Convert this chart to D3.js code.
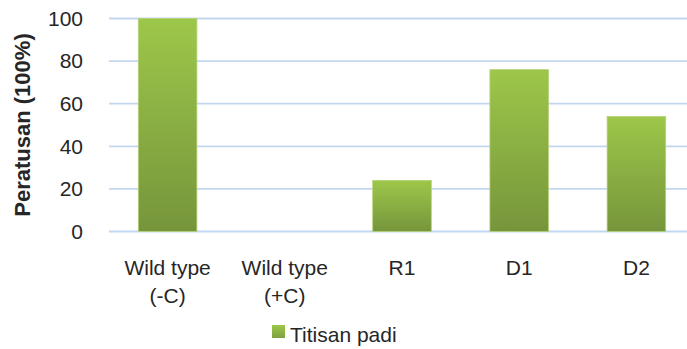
<!DOCTYPE html>
<html>
<head>
<meta charset="utf-8">
<script src="https://cdn.jsdelivr.net/npm/d3@7"></script>
<style>
  html, body { margin: 0; padding: 0; background: #fff; }
  svg { display: block; }
  text { font-family: "Liberation Sans", Arial, sans-serif; fill: #262626; }
</style>
</head>
<body>
<svg id="chart" width="687" height="349"></svg>
<script>
// Chart data
const categories = [["Wild type", "(-C)"], ["Wild type", "(+C)"], ["R1"], ["D1"], ["D2"]];
const values = [100, 0, 24, 76, 54];
const yTicks = [0, 20, 40, 60, 80, 100];
const seriesName = "Titisan padi";

const svg = d3.select("#chart");
const plot = { left: 109, right: 695, top: 18.5, bottom: 231.5 };

const x = d3.scaleBand()
  .domain(d3.range(categories.length))
  .range([plot.left, plot.right])
  .paddingInner(0.5)
  .paddingOuter(0.25);

const y = d3.scaleLinear().domain([0, 100]).range([plot.bottom, plot.top]);

// Bar gradient: lighter green at top, darker at bottom
const defs = svg.append("defs");
const grad = defs.append("linearGradient")
  .attr("id", "barGrad").attr("x1", 0).attr("y1", 0).attr("x2", 0).attr("y2", 1);
grad.append("stop").attr("offset", "0%").attr("stop-color", "#9dc74a");
grad.append("stop").attr("offset", "100%").attr("stop-color", "#76953b");

const lgrad = defs.append("linearGradient")
  .attr("id", "legGrad").attr("x1", 0).attr("y1", 0).attr("x2", 0).attr("y2", 1);
lgrad.append("stop").attr("offset", "0%").attr("stop-color", "#9dc74a");
lgrad.append("stop").attr("offset", "100%").attr("stop-color", "#7fa040");

// Gridlines
svg.append("g")
  .selectAll("line")
  .data(yTicks)
  .join("line")
  .attr("x1", plot.left).attr("x2", plot.right)
  .attr("y1", d => y(d)).attr("y2", d => y(d))
  .attr("stroke", "#c3d8f0")
  .attr("stroke-width", 1.8);

// Y axis tick labels
const yAxis = d3.axisLeft(y).tickValues(yTicks).tickSize(0).tickPadding(0);
const yg = svg.append("g")
  .attr("transform", `translate(83,0)`)
  .call(yAxis);
yg.select(".domain").remove();
yg.selectAll("text")
  .attr("font-family", "Liberation Sans, Arial, sans-serif")
  .attr("font-size", 21)
  .attr("fill", "#262626");

// Bars
svg.append("g")
  .selectAll("rect")
  .data(values)
  .join("rect")
  .attr("x", (d, i) => x(i))
  .attr("y", d => y(d))
  .attr("width", x.bandwidth())
  .attr("height", d => y(0) - y(d))
  .attr("fill", "url(#barGrad)")
  .attr("stroke", "#b5d27a")
  .attr("stroke-width", d => d > 0 ? 0.8 : 0);

// Category labels
const xg = svg.append("g");
categories.forEach((lines, i) => {
  const t = xg.append("text")
    .attr("x", x(i) + x.bandwidth() / 2)
    .attr("y", 275)
    .attr("text-anchor", "middle")
    .attr("font-size", 21);
  lines.forEach((ln, j) => {
    t.append("tspan")
      .attr("x", x(i) + x.bandwidth() / 2)
      .attr("dy", j === 0 ? 0 : 28)
      .text(ln);
  });
});

// Y axis title
svg.append("text")
  .attr("transform", `translate(30,${(plot.top + plot.bottom) / 2}) rotate(-90)`)
  .attr("text-anchor", "middle")
  .attr("font-size", 22)
  .attr("font-weight", "bold")
  .attr("fill", "#111")
  .text("Peratusan (100%)");

// Legend
const leg = svg.append("g").attr("transform", "translate(272,325)");
leg.append("rect").attr("width", 13).attr("height", 13).attr("fill", "url(#legGrad)");
leg.append("text").attr("x", 18).attr("y", 17).attr("font-size", 21).text(seriesName);
</script>
</body>
</html>
